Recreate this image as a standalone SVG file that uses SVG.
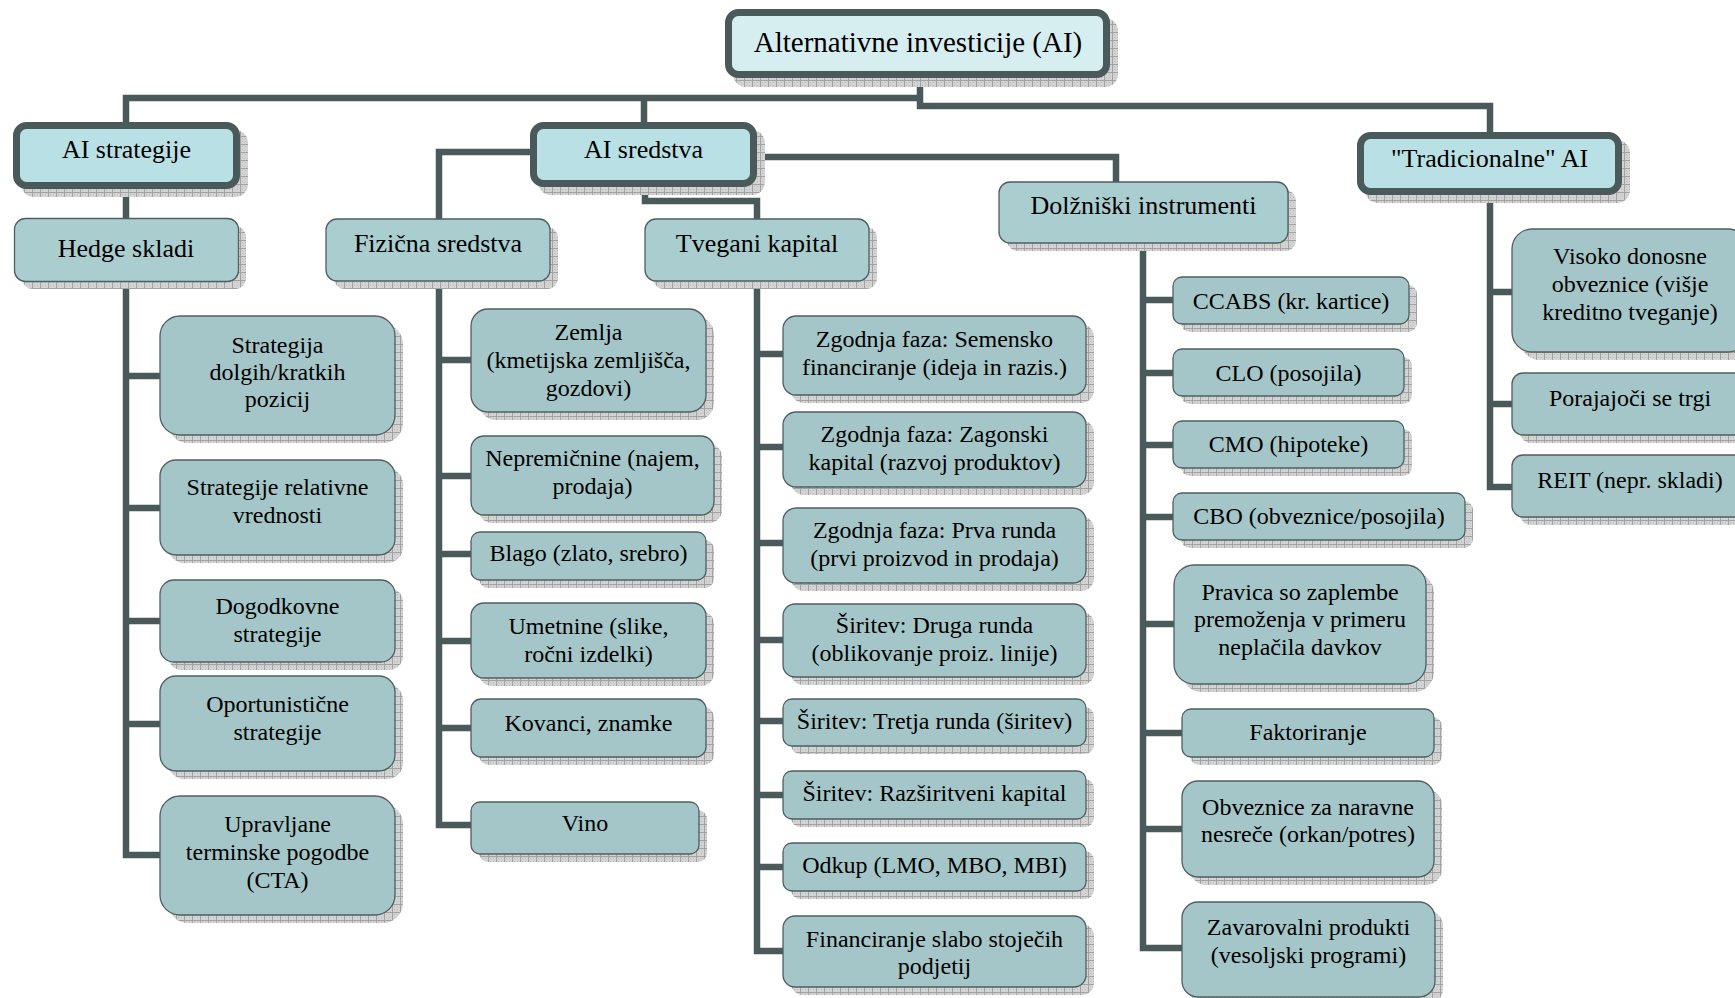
<svg xmlns="http://www.w3.org/2000/svg" width="1735" height="998" viewBox="0 0 1735 998">
<defs>
<pattern id="hatch" patternUnits="userSpaceOnUse" width="8" height="8">
<rect width="8" height="8" fill="#d3d3d3"/>
<path d="M0,0.5H8M0.5,0V8" stroke="#a2a2a2" stroke-width="1"/>
<path d="M2,2h1v1h-1zM5,5h1v1h-1zM5,2h1v1h-1zM2,5h1v1h-1z" fill="#bdbdbd"/>
</pattern>
</defs>
<style>
.sh{fill:url(#hatch);stroke:none}
.l0{fill:#d7eef1;stroke:#4a5a5a;stroke-width:7}
.l1{fill:#b9e0e4;stroke:#4a5a5a;stroke-width:7}
.l2{fill:#aacdcf;stroke:#4f5f5f;stroke-width:1.3}
.c{fill:#a4c6c8;stroke:#4f5f5f;stroke-width:1.3}
text{font-family:"Liberation Serif","Times New Roman",serif;fill:#000;text-anchor:middle}
.t0{font-size:29px}
.t1{font-size:26px}
.t2{font-size:24px}
.ln{fill:none;stroke:#4a5a5a;stroke-width:6.5;stroke-linejoin:miter}
</style>
<rect width="1735" height="998" fill="#fff"/>
<g id="connectors" class="ln">
<path class="ln" d="M126,125V98H920"/>
<path class="ln" d="M644,98V125"/>
<path class="ln" d="M920,76V106H1490V135"/>
<path class="ln" d="M126,186V855H160M126,376H160M126,508H160M126,621H160M126,724H160"/>
<path class="ln" d="M533,152H439V825H471M439,360H471M439,476H471M439,554H471M439,641H471M439,728H471"/>
<path class="ln" d="M645,186V201H757V219"/>
<path class="ln" d="M757,281V951H783M757,354H783M757,447H783M757,543H783M757,640H783M757,721H783M757,795H783M757,867H783"/>
<path class="ln" d="M754,157H1116V182"/>
<path class="ln" d="M1143,243V948H1182M1143,300H1174M1143,373H1174M1143,445H1174M1143,517H1174M1143,624H1174M1143,733H1182M1143,829H1182"/>
<path class="ln" d="M1490,195V487H1512M1490,292H1512M1490,404H1512"/>
</g>

<g id="root">
<rect class="sh" x="733" y="18" width="385" height="69" rx="13"/>
<rect class="l0" x="728.5" y="12.5" width="378" height="62" rx="10"/>
<text class="t0" x="918" y="52">Alternativne investicije (AI)</text>
</g>
<g id="ai-strategije">
<rect class="sh" x="21" y="130" width="227" height="67" rx="13"/>
<rect class="l1" x="16.5" y="125.5" width="220" height="60" rx="10"/>
<text class="t1" x="126.5" y="158">AI strategije</text>
</g>
<g id="ai-sredstva">
<rect class="sh" x="538" y="130" width="227" height="65" rx="13"/>
<rect class="l1" x="533.5" y="125.5" width="220" height="58" rx="10"/>
<text class="t1" x="643.5" y="158">AI sredstva</text>
</g>
<g id="tradicionalne">
<rect class="sh" x="1365" y="140" width="265" height="63" rx="13"/>
<rect class="l1" x="1360.5" y="135.5" width="258" height="56" rx="10"/>
<text class="t1" x="1489.5" y="167">"Tradicionalne" AI</text>
</g>

<g id="hedge-skladi">
<rect class="sh" x="22" y="226" width="224" height="63" rx="11"/>
<rect class="l2" x="14.5" y="218.5" width="224" height="63" rx="11"/>
<text class="t1" x="126" y="257">Hedge skladi</text>
</g>
<g id="fizicna-sredstva">
<rect class="sh" x="334" y="227" width="224" height="62" rx="11"/>
<rect class="l2" x="326" y="219" width="224" height="62" rx="11"/>
<text class="t1" x="438" y="252">Fizična sredstva</text>
</g>
<g id="tvegani-kapital">
<rect class="sh" x="653" y="227" width="224" height="62" rx="11"/>
<rect class="l2" x="645" y="219" width="224" height="62" rx="11"/>
<text class="t1" x="757" y="252">Tvegani kapital</text>
</g>
<g id="dolzniski-instrumenti">
<rect class="sh" x="1007" y="190" width="289" height="61" rx="11"/>
<rect class="l2" x="999" y="182" width="289" height="61" rx="11"/>
<text class="t1" x="1143.5" y="214">Dolžniški instrumenti</text>
</g>

<g id="h1">
<rect class="sh" x="168" y="324" width="235" height="119" rx="20"/>
<rect class="c" x="160" y="316" width="235" height="119" rx="20"/>
<text class="t2" x="277.5" y="353">Strategija</text>
<text class="t2" x="277.5" y="380">dolgih/kratkih</text>
<text class="t2" x="277.5" y="407">pozicij</text>
</g>
<g id="h2">
<rect class="sh" x="168" y="468" width="235" height="95" rx="16"/>
<rect class="c" x="160" y="460" width="235" height="95" rx="16"/>
<text class="t2" x="277.5" y="495">Strategije relativne</text>
<text class="t2" x="277.5" y="523">vrednosti</text>
</g>
<g id="h3">
<rect class="sh" x="168" y="588" width="235" height="82" rx="14"/>
<rect class="c" x="160" y="580" width="235" height="82" rx="14"/>
<text class="t2" x="277.5" y="614">Dogodkovne</text>
<text class="t2" x="277.5" y="642">strategije</text>
</g>
<g id="h4">
<rect class="sh" x="168" y="684" width="235" height="95" rx="16"/>
<rect class="c" x="160" y="676" width="235" height="95" rx="16"/>
<text class="t2" x="277.5" y="712">Oportunistične</text>
<text class="t2" x="277.5" y="740">strategije</text>
</g>
<g id="h5">
<rect class="sh" x="168" y="804" width="235" height="119" rx="20"/>
<rect class="c" x="160" y="796" width="235" height="119" rx="20"/>
<text class="t2" x="277.5" y="832">Upravljane</text>
<text class="t2" x="277.5" y="860">terminske pogodbe</text>
<text class="t2" x="277.5" y="888">(CTA)</text>
</g>

<g id="f1">
<rect class="sh" x="479" y="317" width="235" height="103" rx="17"/>
<rect class="c" x="471" y="309" width="235" height="103" rx="17"/>
<text class="t2" x="588.5" y="340">Zemlja</text>
<text class="t2" x="588.5" y="368">(kmetijska zemljišča,</text>
<text class="t2" x="588.5" y="396">gozdovi)</text>
</g>
<g id="f2">
<rect class="sh" x="479" y="444" width="243" height="79" rx="13"/>
<rect class="c" x="471" y="436" width="243" height="79" rx="13"/>
<text class="t2" x="592.5" y="466">Nepremičnine (najem,</text>
<text class="t2" x="592.5" y="494">prodaja)</text>
</g>
<g id="f3">
<rect class="sh" x="479" y="540" width="235" height="48" rx="9"/>
<rect class="c" x="471" y="532" width="235" height="48" rx="9"/>
<text class="t2" x="588.5" y="561">Blago (zlato, srebro)</text>
</g>
<g id="f4">
<rect class="sh" x="479" y="611" width="235" height="75" rx="13"/>
<rect class="c" x="471" y="603" width="235" height="75" rx="13"/>
<text class="t2" x="588.5" y="634">Umetnine (slike,</text>
<text class="t2" x="588.5" y="662">ročni izdelki)</text>
</g>
<g id="f5">
<rect class="sh" x="479" y="707" width="235" height="58" rx="10"/>
<rect class="c" x="471" y="699" width="235" height="58" rx="10"/>
<text class="t2" x="588.5" y="731">Kovanci, znamke</text>
</g>
<g id="f6">
<rect class="sh" x="479" y="810" width="228" height="52" rx="9"/>
<rect class="c" x="471" y="802" width="228" height="52" rx="9"/>
<text class="t2" x="585" y="831">Vino</text>
</g>

<g id="t1">
<rect class="sh" x="791" y="324" width="303" height="79" rx="13"/>
<rect class="c" x="783" y="316" width="303" height="79" rx="13"/>
<text class="t2" x="934.5" y="347">Zgodnja faza: Semensko</text>
<text class="t2" x="934.5" y="375">financiranje (ideja in razis.)</text>
</g>
<g id="t2">
<rect class="sh" x="791" y="420" width="303" height="75" rx="13"/>
<rect class="c" x="783" y="412" width="303" height="75" rx="13"/>
<text class="t2" x="934.5" y="442">Zgodnja faza: Zagonski</text>
<text class="t2" x="934.5" y="470">kapital (razvoj produktov)</text>
</g>
<g id="t3">
<rect class="sh" x="791" y="516" width="303" height="75" rx="13"/>
<rect class="c" x="783" y="508" width="303" height="75" rx="13"/>
<text class="t2" x="934.5" y="538">Zgodnja faza: Prva runda</text>
<text class="t2" x="934.5" y="566">(prvi proizvod in prodaja)</text>
</g>
<g id="t4">
<rect class="sh" x="791" y="612" width="303" height="73" rx="12"/>
<rect class="c" x="783" y="604" width="303" height="73" rx="12"/>
<text class="t2" x="934.5" y="633">Širitev: Druga runda</text>
<text class="t2" x="934.5" y="661">(oblikovanje proiz. linije)</text>
</g>
<g id="t5">
<rect class="sh" x="791" y="707" width="303" height="47" rx="9"/>
<rect class="c" x="783" y="699" width="303" height="47" rx="9"/>
<text class="t2" x="934.5" y="729">Širitev: Tretja runda (širitev)</text>
</g>
<g id="t6">
<rect class="sh" x="791" y="779" width="303" height="48" rx="9"/>
<rect class="c" x="783" y="771" width="303" height="48" rx="9"/>
<text class="t2" x="934.5" y="801">Širitev: Razširitveni kapital</text>
</g>
<g id="t7">
<rect class="sh" x="791" y="851" width="303" height="48" rx="9"/>
<rect class="c" x="783" y="843" width="303" height="48" rx="9"/>
<text class="t2" x="934.5" y="873">Odkup (LMO, MBO, MBI)</text>
</g>
<g id="t8">
<rect class="sh" x="791" y="924" width="303" height="71" rx="12"/>
<rect class="c" x="783" y="916" width="303" height="71" rx="12"/>
<text class="t2" x="934.5" y="947">Financiranje slabo stoječih</text>
<text class="t2" x="934.5" y="974">podjetij</text>
</g>

<g id="d1">
<rect class="sh" x="1181" y="285" width="236" height="47" rx="9"/>
<rect class="c" x="1173" y="277" width="236" height="47" rx="9"/>
<text class="t2" x="1291" y="309">CCABS (kr. kartice)</text>
</g>
<g id="d2">
<rect class="sh" x="1181" y="357" width="231" height="47" rx="9"/>
<rect class="c" x="1173" y="349" width="231" height="47" rx="9"/>
<text class="t2" x="1288.5" y="381">CLO (posojila)</text>
</g>
<g id="d3">
<rect class="sh" x="1181" y="429" width="231" height="47" rx="9"/>
<rect class="c" x="1173" y="421" width="231" height="47" rx="9"/>
<text class="t2" x="1288.5" y="452">CMO (hipoteke)</text>
</g>
<g id="d4">
<rect class="sh" x="1181" y="501" width="292" height="47" rx="9"/>
<rect class="c" x="1173" y="493" width="292" height="47" rx="9"/>
<text class="t2" x="1319" y="524">CBO (obveznice/posojila)</text>
</g>
<g id="d5">
<rect class="sh" x="1182" y="573" width="252" height="119" rx="20"/>
<rect class="c" x="1174" y="565" width="252" height="119" rx="20"/>
<text class="t2" x="1300" y="600">Pravica so zaplembe</text>
<text class="t2" x="1300" y="627">premoženja v primeru</text>
<text class="t2" x="1300" y="655">neplačila davkov</text>
</g>
<g id="d6">
<rect class="sh" x="1190" y="717" width="252" height="48" rx="9"/>
<rect class="c" x="1182" y="709" width="252" height="48" rx="9"/>
<text class="t2" x="1308" y="740">Faktoriranje</text>
</g>
<g id="d7">
<rect class="sh" x="1190" y="789" width="252" height="96" rx="16"/>
<rect class="c" x="1182" y="781" width="252" height="96" rx="16"/>
<text class="t2" x="1308" y="815">Obveznice za naravne</text>
<text class="t2" x="1308" y="842">nesreče (orkan/potres)</text>
</g>
<g id="d8">
<rect class="sh" x="1190" y="910" width="253" height="95" rx="16"/>
<rect class="c" x="1182" y="902" width="253" height="95" rx="16"/>
<text class="t2" x="1308.5" y="935">Zavarovalni produkti</text>
<text class="t2" x="1308.5" y="963">(vesoljski programi)</text>
</g>

<g id="r1">
<rect class="sh" x="1520" y="237" width="236" height="123" rx="20"/>
<rect class="c" x="1512" y="229" width="236" height="123" rx="20"/>
<text class="t2" x="1630" y="264">Visoko donosne</text>
<text class="t2" x="1630" y="292">obveznice (višje</text>
<text class="t2" x="1630" y="320">kreditno tveganje)</text>
</g>
<g id="r2">
<rect class="sh" x="1520" y="381" width="236" height="62" rx="11"/>
<rect class="c" x="1512" y="373" width="236" height="62" rx="11"/>
<text class="t2" x="1630" y="406">Porajajoči se trgi</text>
</g>
<g id="r3">
<rect class="sh" x="1520" y="463" width="236" height="62" rx="11"/>
<rect class="c" x="1512" y="455" width="236" height="62" rx="11"/>
<text class="t2" x="1630" y="488">REIT (nepr. skladi)</text>
</g>
</svg>
